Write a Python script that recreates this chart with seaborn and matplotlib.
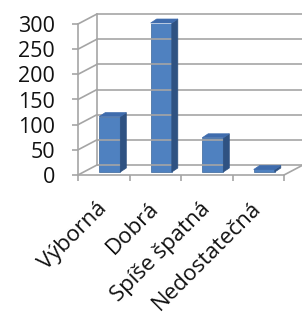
import matplotlib
matplotlib.use("Agg")
import matplotlib.pyplot as plt
import seaborn as sns
import numpy as np
from matplotlib.transforms import ScaledTranslation, IdentityTransform
from matplotlib.lines import Line2D
from matplotlib.patches import Polygon

categories = ["Výborná", "Dobrá", "Spíše špatná", "Nedostatečná"]
values = [110, 296, 68, 5]
yticks = [0, 50, 100, 150, 200, 250, 300]

sns.set_style("white")
plt.rcParams["font.family"] = ["Open Sans", "DejaVu Sans"]

W, H = 302, 320
DPI = 100
fig = plt.figure(figsize=(W / DPI, H / DPI), dpi=DPI)
ax = fig.add_axes([78 / W, 145 / H, 206 / W, 151 / H])

grid_c = "#a5a5a5"
front_c = "#4f81c0"
side_c = "#2f5282"
top_c = "#3f6cad"
text_c = "#111111"

sns.barplot(x=categories, y=values, width=0.41, color=front_c, ax=ax,
            saturation=1, edgecolor="#3a659a", linewidth=0.5, zorder=5)
ax.set_xlim(-0.5, len(categories) - 0.5)
ax.set_ylim(0, 300)

# depth of the back wall (pixels)
DX, DY = 19, 10
# bar placement within depth
BX, BY = 6, 3
SX, SY = 6, 4

idt = IdentityTransform()
td = ax.transData

# back wall gridlines and diagonals
for v in yticks:
    p0 = td.transform((-0.5, v))
    p1 = td.transform((len(categories) - 0.5, v))
    fig.add_artist(Line2D([p0[0], p0[0] + DX], [p0[1], p0[1] + DY], transform=idt,
                          color=grid_c, lw=1.2, zorder=1))
    fig.add_artist(Line2D([p0[0] + DX, p1[0] + DX + 5], [p0[1] + DY, p1[1] + DY], transform=idt,
                          color=grid_c, lw=1.2, zorder=1))
# back wall left vertical edge
b0 = td.transform((-0.5, 0))
b1 = td.transform((-0.5, 300))
fig.add_artist(Line2D([b0[0] + DX, b1[0] + DX], [b0[1] + DY, b1[1] + DY], transform=idt,
                      color=grid_c, lw=1.2, zorder=1))
# floor right diagonal
r0 = td.transform((len(categories) - 0.5, 0))
fig.add_artist(Line2D([r0[0], r0[0] + DX], [r0[1], r0[1] + DY], transform=idt,
                      color=grid_c, lw=1.2, zorder=1))

# 3D bars
off = ScaledTranslation(BX / DPI, BY / DPI, fig.dpi_scale_trans)
for p in ax.patches:
    p.set_transform(td + off)
    x0, w, h = p.get_x(), p.get_width(), p.get_height()
    a = td.transform((x0, 0)) + np.array([BX, BY])
    b = td.transform((x0 + w, h)) + np.array([BX, BY])
    side = Polygon([(b[0], a[1]), (b[0] + SX, a[1] + SY), (b[0] + SX, b[1] + SY), (b[0], b[1])],
                   closed=True, transform=idt, facecolor=side_c, edgecolor=side_c, lw=0.5, zorder=6)
    top = Polygon([(a[0], b[1]), (a[0] + SX, b[1] + SY), (b[0] + SX, b[1] + SY), (b[0], b[1])],
                  closed=True, transform=idt, facecolor=top_c, edgecolor=top_c, lw=0.5, zorder=6)
    fig.add_artist(side)
    fig.add_artist(top)

# axes styling
for s in ["top", "right"]:
    ax.spines[s].set_visible(False)
for s in ["left", "bottom"]:
    ax.spines[s].set_color(grid_c)
    ax.spines[s].set_linewidth(1.2)
ax.patch.set_alpha(0)

ax.set_yticks(yticks)
ax.set_yticklabels([str(v) for v in yticks], fontsize=15.5, color=text_c)
ax.tick_params(axis="y", length=4.5, width=1.2, color=grid_c, pad=12, left=True)

ax.set_xticks(range(len(categories)))
ax.set_xticklabels(categories, rotation=45, ha="right", va="center", rotation_mode="anchor",
                   fontsize=16, color=text_c)
ax.tick_params(axis="x", which="major", length=0, pad=22)
ax.set_xticks(np.arange(-0.5, len(categories), 1.0), minor=True)
ax.tick_params(axis="x", which="minor", length=4.5, width=1.2, color=grid_c, bottom=True)
ax.set_xlabel("")
ax.set_ylabel("")

fig.savefig("out.png", dpi=DPI)
